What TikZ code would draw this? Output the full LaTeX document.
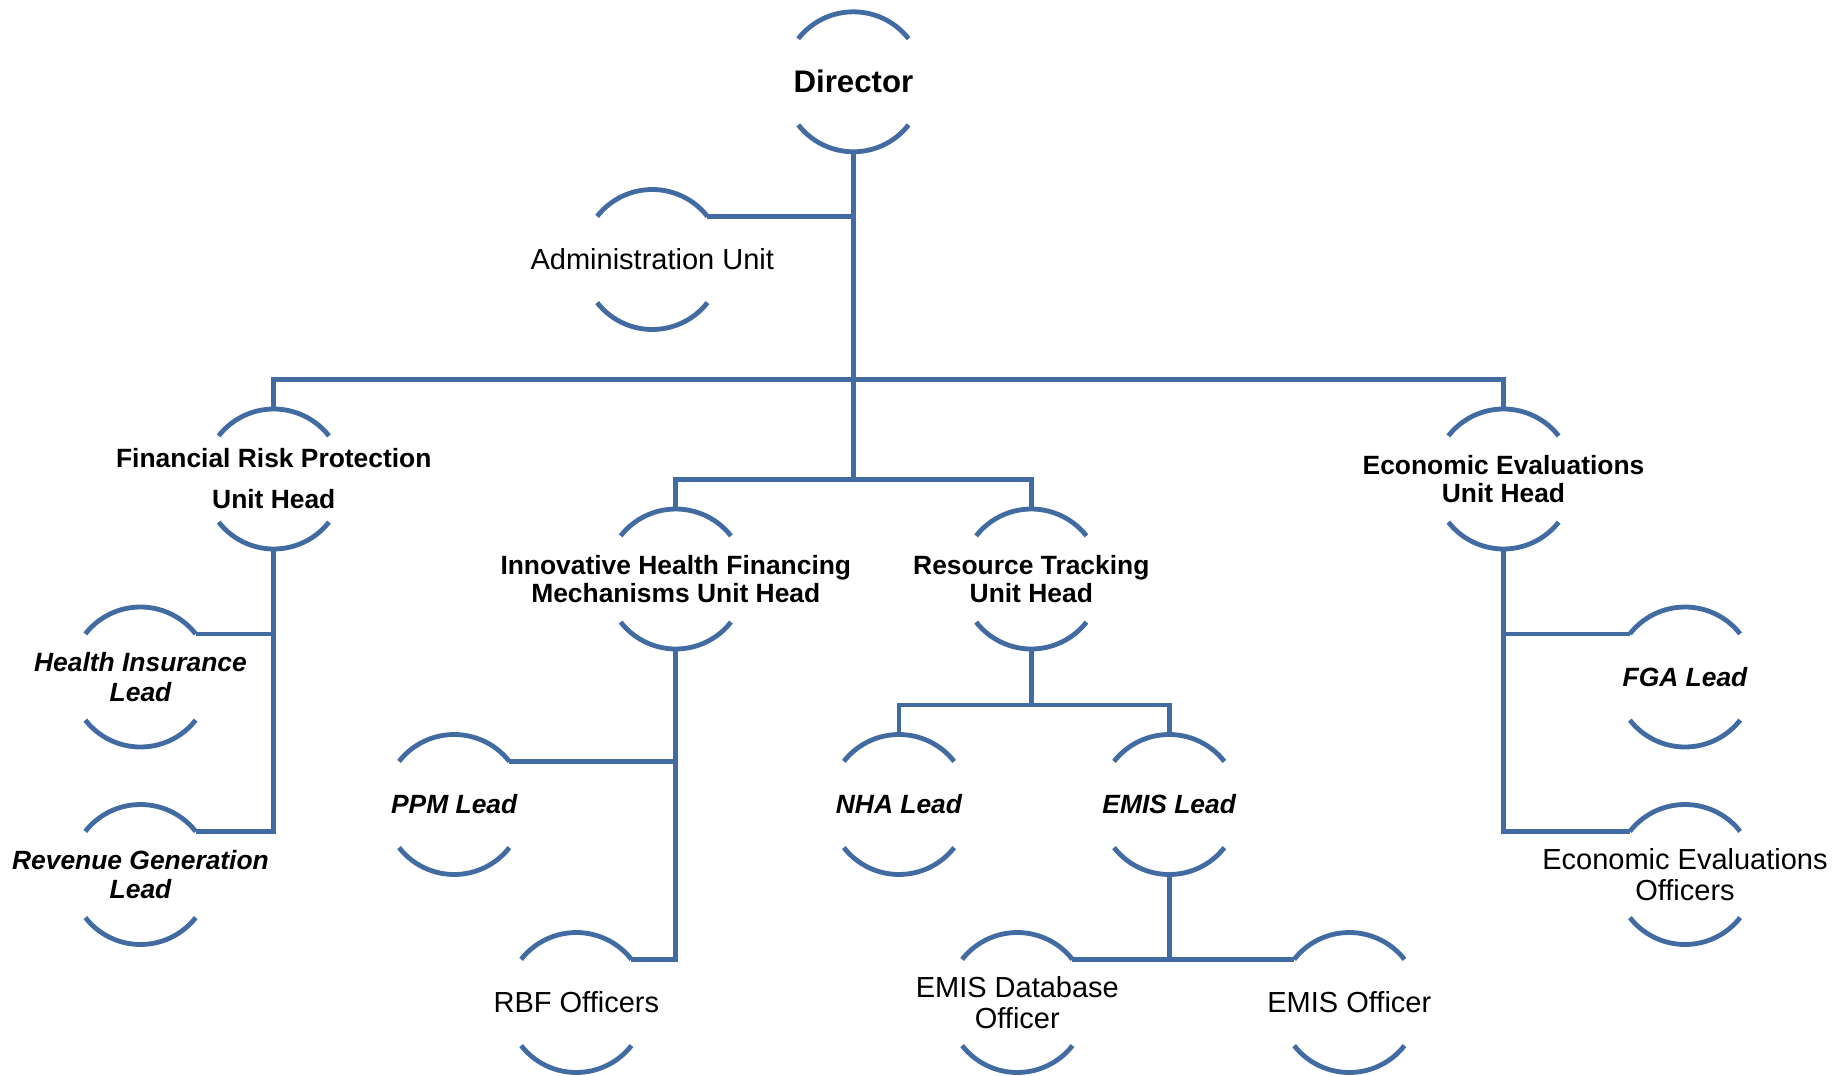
\documentclass[tikz,border=0pt]{standalone}
\usepackage{fontspec}
\setmainfont{Liberation Sans}
\newlength{\du}
\setlength{\du}{0.5pt}

\begin{document}
\begin{tikzpicture}[x=1\du, y=-1\du,
  unit/.style={circle, minimum size=140\du, inner sep=0pt, outer sep=0pt},
  orgline/.style={draw=dialinecolor, line width=4.8\du},
  toptxt/.style={font=\fontsize{15.6}{18}\selectfont\bfseries},
  headtxt/.style={align=center, font=\fontsize{13.2}{14}\selectfont\bfseries},
  leadtxt/.style={align=center, font=\fontsize{13.2}{14.6}\selectfont\bfseries\itshape},
  stafftxt/.style={align=center, font=\fontsize{14.5}{15.5}\selectfont}]
\definecolor{dialinecolor}{rgb}{0.260000, 0.420000, 0.630000}
\useasboundingbox (0,0) rectangle (1833,1076);
% units
\node[unit] (dir) at (853.4,81.8) {};
\node[unit] (adm) at (652.3,259.5) {};
\node[unit] (frp) at (273.8,479.0) {};
\node[unit] (eeh) at (1503.5,479.0) {};
\node[unit] (ihf) at (675.8,579.0) {};
\node[unit] (rt) at (1031.3,579.0) {};
\node[unit] (hil) at (140.5,677.0) {};
\node[unit] (fga) at (1685.0,677.0) {};
\node[unit] (ppm) at (454.2,804.5) {};
\node[unit] (nha) at (899.0,804.5) {};
\node[unit] (emis) at (1169.2,804.5) {};
\node[unit] (rgl) at (140.5,874.5) {};
\node[unit] (eeo) at (1685.0,874.5) {};
\node[unit] (rbf) at (576.3,1002.5) {};
\node[unit] (emdb) at (1017.3,1002.5) {};
\node[unit] (emo) at (1349.3,1002.5) {};
\coordinate (bus1) at (853.4,379.5);
\coordinate (bus2) at (853.4,479.5);
\coordinate (bus3) at (1031.3,705.0);
% open circles
\draw[orgline] (dir.38) arc[start angle=38, end angle=142, radius=70\du] (dir.218) arc[start angle=218, end angle=322, radius=70\du];
\draw[orgline] (adm.38) arc[start angle=38, end angle=142, radius=70\du] (adm.218) arc[start angle=218, end angle=322, radius=70\du];
\draw[orgline] (frp.38) arc[start angle=38, end angle=142, radius=70\du] (frp.218) arc[start angle=218, end angle=322, radius=70\du];
\draw[orgline] (eeh.38) arc[start angle=38, end angle=142, radius=70\du] (eeh.218) arc[start angle=218, end angle=322, radius=70\du];
\draw[orgline] (ihf.38) arc[start angle=38, end angle=142, radius=70\du] (ihf.218) arc[start angle=218, end angle=322, radius=70\du];
\draw[orgline] (rt.38) arc[start angle=38, end angle=142, radius=70\du] (rt.218) arc[start angle=218, end angle=322, radius=70\du];
\draw[orgline] (hil.38) arc[start angle=38, end angle=142, radius=70\du] (hil.218) arc[start angle=218, end angle=322, radius=70\du];
\draw[orgline] (fga.38) arc[start angle=38, end angle=142, radius=70\du] (fga.218) arc[start angle=218, end angle=322, radius=70\du];
\draw[orgline] (ppm.38) arc[start angle=38, end angle=142, radius=70\du] (ppm.218) arc[start angle=218, end angle=322, radius=70\du];
\draw[orgline] (nha.38) arc[start angle=38, end angle=142, radius=70\du] (nha.218) arc[start angle=218, end angle=322, radius=70\du];
\draw[orgline] (emis.38) arc[start angle=38, end angle=142, radius=70\du] (emis.218) arc[start angle=218, end angle=322, radius=70\du];
\draw[orgline] (rgl.38) arc[start angle=38, end angle=142, radius=70\du] (rgl.218) arc[start angle=218, end angle=322, radius=70\du];
\draw[orgline] (eeo.38) arc[start angle=38, end angle=142, radius=70\du] (eeo.218) arc[start angle=218, end angle=322, radius=70\du];
\draw[orgline] (rbf.38) arc[start angle=38, end angle=142, radius=70\du] (rbf.218) arc[start angle=218, end angle=322, radius=70\du];
\draw[orgline] (emdb.38) arc[start angle=38, end angle=142, radius=70\du] (emdb.218) arc[start angle=218, end angle=322, radius=70\du];
\draw[orgline] (emo.38) arc[start angle=38, end angle=142, radius=70\du] (emo.218) arc[start angle=218, end angle=322, radius=70\du];
% connectors
\draw[orgline] (adm.38) -- (adm.38 -| dir.south);
\draw[orgline] (dir.south) -- (bus2);
\draw[orgline] (frp.north) |- (bus1) -| (eeh.north);
\draw[orgline] (ihf.north) |- (bus2) -| (rt.north);
\draw[orgline] (frp.south) |- (rgl.38);
\draw[orgline] (hil.38) -- (hil.38 -| frp.south);
\draw[orgline] (ihf.south) |- (rbf.38);
\draw[orgline] (ppm.38) -- (ppm.38 -| ihf.south);
\draw[orgline] (rt.south) -- (bus3);
\draw[orgline] (nha.north) |- (bus3) -| (emis.north);
\draw[orgline] (emis.south) -- (emis.south |- emdb.38);
\draw[orgline] (emdb.38) -- (emo.142);
\draw[orgline] (eeh.south) |- (eeo.142);
\draw[orgline] (fga.142) -- (fga.142 -| eeh.south);
% texts
\node[toptxt] (dir-txt) at (dir) {Director};
\node[stafftxt] (adm-txt) at (adm) {Administration Unit};
\node[headtxt] (frp-txt) at (frp) {Financial Risk Protection\\[6.5pt]Unit Head};
\node[headtxt] (ihf-txt) at (ihf) {Innovative Health Financing\\Mechanisms Unit Head};
\node[headtxt] (rt-txt) at (rt) {Resource Tracking\\Unit Head};
\node[headtxt] (eeh-txt) at (eeh) {Economic Evaluations\\Unit Head};
\node[leadtxt] (hil-txt) at (hil) {Health Insurance\\Lead};
\node[leadtxt] (rgl-txt) at (rgl) {Revenue Generation\\Lead};
\node[leadtxt] (ppm-txt) at (ppm) {PPM Lead};
\node[leadtxt] (nha-txt) at (nha) {NHA Lead};
\node[leadtxt] (emis-txt) at (emis) {EMIS Lead};
\node[leadtxt] (fga-txt) at (fga) {FGA Lead};
\node[stafftxt] (rbf-txt) at (rbf) {RBF Officers};
\node[stafftxt] (emdb-txt) at (emdb) {EMIS Database\\Officer};
\node[stafftxt] (emo-txt) at (emo) {EMIS Officer};
\node[stafftxt] (eeo-txt) at (eeo) {Economic Evaluations\\Officers};
\end{tikzpicture}
\end{document}
